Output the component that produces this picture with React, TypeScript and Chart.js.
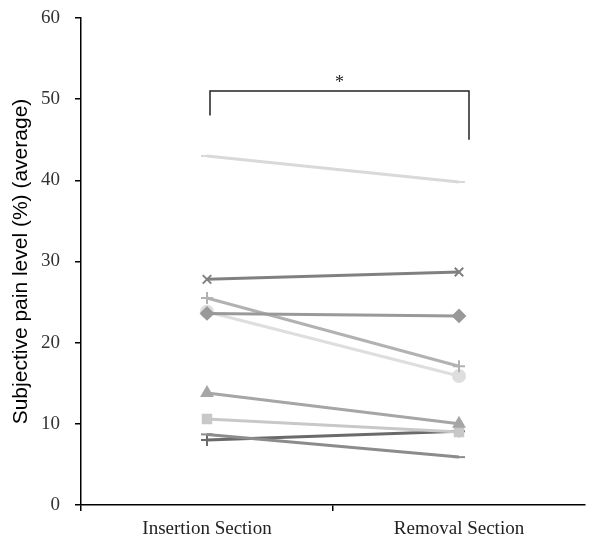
import React, { useEffect, useRef } from "react";
import { Chart, registerables } from "chart.js";

Chart.register(...registerables);

const categories = ["Insertion Section", "Removal Section"];
const yTicks = [0, 10, 20, 30, 40, 50, 60];

const s1 = [43.0, 39.8];
const s2 = [27.8, 28.7];
const s3 = [23.6, 23.3];
const s4 = [25.5, 17.1];
const s5 = [23.8, 15.9];
const s6 = [13.8, 10.0];
const s7 = [10.6, 9.0];
const s8 = [8.7, 5.9];
const s9 = [8.0, 9.1];

const seriesValues = [s1, s2, s3, s4, s5, s6, s7, s8, s9];
const seriesColors = ["#d9d9d9", "#808080", "#999999", "#b2b2b2", "#dedede", "#a6a6a6", "#c8c8c8", "#8c8c8c", "#6a6a6a"];
const seriesPoints = ["line", "crossRot", "rectRot", "cross", "circle", "triangle", "rect", "line", "cross"];

const bracketLevel = 51;
const bracketLeftEnd = 48;
const bracketRightEnd = 45;
const bracketLabel = "*";

const bracketPlugin = {
  id: "bracket",
  afterDatasetsDraw(chart: any) {
    const { ctx, scales } = chart;
    const x = scales.x;
    const y = scales.y;
    const x0 = x.getPixelForValue(0) + 3;
    const x1 = x.getPixelForValue(1) + 10;
    const yt = y.getPixelForValue(bracketLevel);
    ctx.save();
    ctx.strokeStyle = "#222";
    ctx.lineWidth = 1.5;
    ctx.beginPath();
    ctx.moveTo(x0, y.getPixelForValue(bracketLeftEnd));
    ctx.lineTo(x0, yt);
    ctx.lineTo(x1, yt);
    ctx.lineTo(x1, y.getPixelForValue(bracketRightEnd));
    ctx.stroke();
    ctx.fillStyle = "#222";
    ctx.font = "18px 'Liberation Serif'";
    ctx.textAlign = "center";
    ctx.textBaseline = "bottom";
    ctx.fillText(bracketLabel, (x0 + x1) / 2, yt + 1);
    ctx.restore();
  },
};

export default function App() {
  const ref = useRef<HTMLCanvasElement>(null);
  useEffect(() => {
    if (!ref.current) return;
    const chart = new Chart(ref.current, {
      type: "line",
      data: {
        labels: categories,
        datasets: seriesValues.map((v, i) => ({
          data: v,
          borderColor: seriesColors[i],
          backgroundColor: seriesColors[i],
          borderWidth: 3,
          pointStyle: seriesPoints[i] as any,
          pointRadius: 6,
          pointBorderWidth: 2,
          pointBorderColor: seriesColors[i],
        })),
      },
      options: {
        animation: false,
        responsive: false,
        maintainAspectRatio: false,
        plugins: { legend: { display: false }, tooltip: { enabled: false } },
        layout: { padding: { top: 18, right: 10, left: 0, bottom: 0 } },
        scales: {
          x: {
            type: "category",
            offset: true,
            grid: {
              offset: true,
              drawOnChartArea: false,
              drawTicks: true,
              tickLength: 6,
              color: (c: any) => (c.type === "tick" ? "#000" : "rgba(0,0,0,0)"),
              lineWidth: 1.5,
            },
            border: { color: "#000", width: 1.5 },
            ticks: { color: "#222", font: { family: "'Liberation Serif'", size: 19 }, padding: 7 },
            afterFit: (s: any) => { s.height = 35; s.paddingLeft = 0; s.paddingRight = 0; },
          },
          y: {
            min: 0,
            max: 60,
            afterBuildTicks: (s: any) => { s.ticks = yTicks.map((v) => ({ value: v })); },
            grid: { drawOnChartArea: false, drawTicks: true, tickLength: 6, color: "#000", lineWidth: 1.5 },
            border: { color: "#000", width: 1.5 },
            ticks: { color: "#333", font: { family: "'Liberation Serif'", size: 19 }, padding: 15 },
            title: {
              display: true,
              text: "Subjective pain level (%) (average)",
              color: "#000",
              font: { family: "'Liberation Sans'", size: 21 },
              padding: { top: 9, bottom: 0 },
            },
            afterFit: (s: any) => { s.width = 81; s.paddingTop = 0; s.paddingBottom = 0; },
          },
        },
      },
      plugins: [bracketPlugin],
    });
    return () => chart.destroy();
  }, []);
  return (
    <div style={{ position: "fixed", left: 0, top: 0, width: 595, height: 540, background: "#fff" }}>
      <canvas ref={ref} width={595} height={540} />
    </div>
  );
}
